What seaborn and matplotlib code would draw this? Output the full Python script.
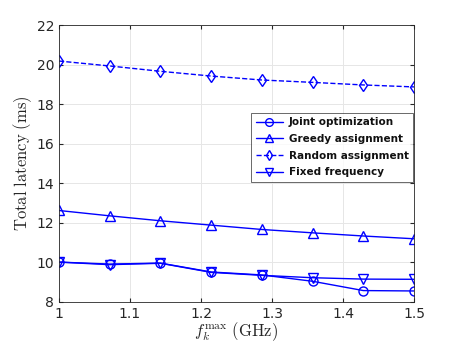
import pandas as pd
import numpy as np
import matplotlib.pyplot as plt
import seaborn as sns

# frequencies (GHz)
freq = [1.0, 1.0714, 1.1429, 1.2143, 1.2857, 1.3571, 1.4286, 1.5]

joint = [10.01, 9.91, 9.96, 9.51, 9.36, 9.04, 8.57, 8.55]
greedy = [12.62, 12.35, 12.10, 11.88, 11.66, 11.49, 11.33, 11.19]
random_assign = [20.18, 19.93, 19.66, 19.42, 19.22, 19.10, 18.97, 18.87]
fixed = [10.01, 9.88, 9.95, 9.49, 9.34, 9.22, 9.15, 9.14]

names = ["Joint optimization", "Greedy assignment", "Random assignment", "Fixed frequency"]
markers = ["o", "^", "d", "v"]
styles = ["-", "-", "--", "-"]

sns.set_style("ticks")
plt.rcParams["mathtext.fontset"] = "cm"

fig = plt.figure(figsize=(4.57, 3.43), dpi=100)
ax = fig.add_axes([0.129, 0.120, 0.777, 0.807])

for name, vals, m, ls in zip(names, [joint, greedy, random_assign, fixed], markers, styles):
    df = pd.DataFrame({"f": freq, "lat": vals})
    kw = {"dashes": (5, 3.5)} if ls == "--" else {}
    sns.lineplot(data=df, x="f", y="lat", ax=ax, color="#0000ff", marker=m, linestyle=ls,
                 markersize=6.5, markerfacecolor="none", markeredgecolor="#0000ff",
                 markeredgewidth=1.0, linewidth=1.0, label=name, **kw)

ax.set_xlim(1, 1.5)
ax.set_ylim(8, 22)
ax.set_xticks([1, 1.1, 1.2, 1.3, 1.4, 1.5])
ax.set_xticklabels(["1", "1.1", "1.2", "1.3", "1.4", "1.5"])
ax.set_yticks(np.arange(8, 23, 2))
ax.grid(True, color="#e6e6e6", linewidth=0.7)
ax.tick_params(direction="in", top=True, right=True, labelsize=10, colors="#262626", length=3)
for s in ax.spines.values():
    s.set_color("#262626")
    s.set_linewidth(0.6)

ax.set_xlabel(r"$f_k^{\max}\ \mathrm{(GHz)}$", fontsize=12, labelpad=0, color="#262626")
ax.set_ylabel(r"$\mathrm{Total\ latency\ (ms)}$", fontsize=12, labelpad=2, color="#262626")

leg = ax.legend(loc="upper right", bbox_to_anchor=(413 / 457, 1 - 113 / 343),
                bbox_transform=fig.transFigure, frameon=True, fancybox=False,
                prop={"weight": "bold", "size": 7.5}, handlelength=2.6, markerscale=0.85,
                borderpad=0.4, labelspacing=0.65, handletextpad=0.6, borderaxespad=0)
leg.get_frame().set_edgecolor("#262626")
leg.get_frame().set_linewidth(0.6)
for t in leg.get_texts():
    t.set_color("#111111")

fig.savefig("out.png", dpi=100)
